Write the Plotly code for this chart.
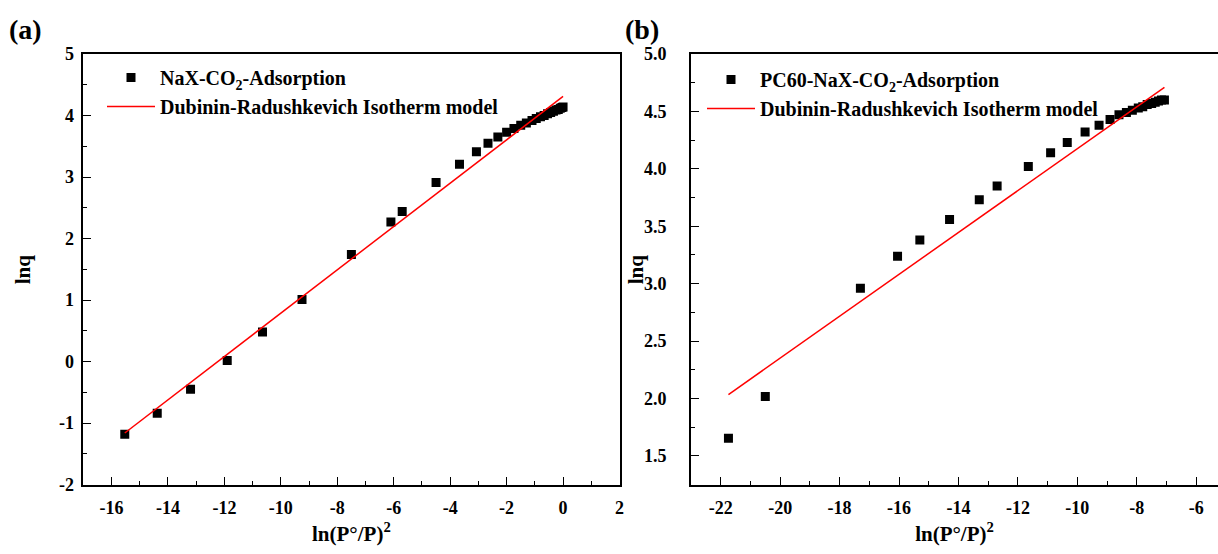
import plotly.graph_objects as go

# ---------------- data: panel (a) NaX ----------------
a_x = [-15.53, -14.38, -13.2, -11.9, -10.65, -9.25, -7.5, -6.1, -5.7, -4.5,
       -3.67, -3.07, -2.66, -2.31, -2.0, -1.74,
       -1.5, -1.3, -1.1, -0.95, -0.8, -0.67, -0.55, -0.44, -0.34, -0.25,
       -0.17, -0.1, -0.04, 0.0]
a_y = [-1.18, -0.84, -0.45, 0.02, 0.48, 1.01, 1.74, 2.27, 2.44, 2.91,
       3.21, 3.41, 3.55, 3.65, 3.73, 3.79,
       3.84, 3.88, 3.92, 3.95, 3.98, 4.00, 4.03, 4.05, 4.07, 4.09,
       4.10, 4.12, 4.13, 4.14]
a_fit_x = [-15.53, 0.0]
a_fit_y = [-1.16, 4.31]
a_xticks = [-16, -14, -12, -10, -8, -6, -4, -2, 0, 2]
a_yticks = [-2, -1, 0, 1, 2, 3, 4, 5]

# ---------------- data: panel (b) PC60-NaX ----------------
b_x = [-21.74, -20.5, -17.3, -16.05, -15.3, -14.3, -13.3, -12.7, -11.65, -10.9,
       -10.34, -9.74, -9.27, -8.9,
       -8.6, -8.35, -8.15, -7.95, -7.8, -7.65, -7.5, -7.38, -7.27, -7.17, -7.07]
b_y = [1.655, 2.017, 2.96, 3.24, 3.38, 3.56, 3.73, 3.85, 4.02, 4.14,
       4.23, 4.32, 4.38, 4.43,
       4.47, 4.49, 4.51, 4.53, 4.54, 4.56, 4.57, 4.58, 4.59, 4.60, 4.60]
b_fit_x = [-21.74, -7.07]
b_fit_y = [2.035, 4.71]
b_xticks = [-22, -20, -18, -16, -14, -12, -10, -8, -6]
b_yticks = [1.5, 2.0, 2.5, 3.0, 3.5, 4.0, 4.5, 5.0]

FONT = "Liberation Serif, Times New Roman, serif"
W, H = 1218, 554


def lab(v, fmt="{:g}"):
    return "<b>" + fmt.format(v) + "</b>"


fig = go.Figure()

fig.add_trace(go.Scatter(x=a_x, y=a_y, mode="markers",
                         marker=dict(symbol="square", size=9, color="black"),
                         name="<b>NaX-CO<sub>2</sub>-Adsorption</b>",
                         xaxis="x", yaxis="y", legend="legend", legendgroup="a1"))
fig.add_trace(go.Scatter(x=a_fit_x, y=a_fit_y, mode="lines",
                         line=dict(color="#ff0000", width=1.5),
                         name="<b>Dubinin-Radushkevich Isotherm model</b>",
                         xaxis="x", yaxis="y", legend="legend", legendgroup="a2"))
fig.add_trace(go.Scatter(x=b_x, y=b_y, mode="markers",
                         marker=dict(symbol="square", size=9, color="black"),
                         name="<b>PC60-NaX-CO<sub>2</sub>-Adsorption</b>",
                         xaxis="x2", yaxis="y2", legend="legend2", legendgroup="b1"))
fig.add_trace(go.Scatter(x=b_fit_x, y=b_fit_y, mode="lines",
                         line=dict(color="#ff0000", width=1.5),
                         name="<b>Dubinin-Radushkevich Isotherm model</b>",
                         xaxis="x2", yaxis="y2", legend="legend2", legendgroup="b2"))

ax_common = dict(showgrid=False, zeroline=False, showline=True, linecolor="black",
                 linewidth=1.6, ticks="inside", ticklen=8, tickwidth=1.4,
                 tickcolor="black", automargin=False, tickmode="array",
                 tickfont=dict(family=FONT, size=18, color="black"))
minor_common = dict(ticks="inside", ticklen=4, tickwidth=1.2, tickcolor="black")
title_font = dict(family=FONT, size=21, color="black")

ytop = 1 - 54 / H
ybot = 1 - 484.7 / H
ymid = (ytop + ybot) / 2

fig.update_layout(
    width=W, height=H,
    margin=dict(l=0, r=0, t=0, b=0, autoexpand=False),
    paper_bgcolor="white", plot_bgcolor="white",
    font=dict(family=FONT, color="black"),
    xaxis=dict(**ax_common, domain=[83.3 / W, 619.5 / W], range=[-17, 2],
               tickvals=a_xticks, ticktext=[lab(v) for v in a_xticks],
               mirror=True, anchor="y",
               minor=dict(**minor_common, tickmode="linear", tick0=-17, dtick=2),
               title=dict(text="<b>ln(P°/P)<sup>2</sup></b>", font=title_font, standoff=9),
               ticklabelstandoff=6),
    yaxis=dict(**ax_common, domain=[ybot, ytop], range=[-2, 5],
               tickvals=a_yticks, ticktext=[lab(v) for v in a_yticks],
               mirror=True, anchor="x",
               minor=dict(**minor_common, tickmode="linear", tick0=-1.5, dtick=1),
               ticklabelstandoff=4),
    xaxis2=dict(**ax_common, domain=[691 / W, 1.0], range=[-23, -23 + (W - 691) / 29.72],
                tickvals=b_xticks, ticktext=[lab(v) for v in b_xticks],
                mirror=True, anchor="y2",
                minor=dict(**minor_common, tickmode="linear", tick0=-23, dtick=2),
                title=dict(text="<b>ln(P°/P)<sup>2</sup></b>", font=title_font, standoff=9),
                ticklabelstandoff=6),
    yaxis2=dict(**ax_common, domain=[ybot, ytop], range=[1.25, 5.0],
                tickvals=b_yticks, ticktext=[lab(v, "{:.1f}") for v in b_yticks],
                mirror=False, anchor="x2",
                minor=dict(**minor_common, tickmode="linear", tick0=1.25, dtick=0.5),
                ticklabelstandoff=19),
    legend=dict(x=102 / W, y=1 - 58 / H, xanchor="left", yanchor="top",
                bgcolor="rgba(0,0,0,0)", borderwidth=0, tracegroupgap=0,
                itemwidth=48,
                font=dict(family=FONT, size=20, color="black")),
    legend2=dict(x=702 / W, y=1 - 60 / H, xanchor="left", yanchor="top",
                 bgcolor="rgba(0,0,0,0)", borderwidth=0, tracegroupgap=0,
                 itemwidth=48,
                 font=dict(family=FONT, size=20, color="black")),
    showlegend=True,
    annotations=[
        dict(text="<b>(a)</b>", x=7 / W, y=1 - 30 / H, xref="paper", yref="paper",
             xanchor="left", yanchor="middle", showarrow=False,
             font=dict(family=FONT, size=28, color="black")),
        dict(text="<b>(b)</b>", x=623 / W, y=1 - 30 / H, xref="paper", yref="paper",
             xanchor="left", yanchor="middle", showarrow=False,
             font=dict(family=FONT, size=28, color="black")),
        dict(text="<b>lnq</b>", x=23 / W, y=ymid, xref="paper", yref="paper",
             xanchor="center", yanchor="middle", textangle=-90, showarrow=False,
             font=title_font),
        dict(text="<b>lnq</b>", x=636 / W, y=ymid, xref="paper", yref="paper",
             xanchor="center", yanchor="middle", textangle=-90, showarrow=False,
             font=title_font),
    ],
)

fig.write_html("out.html")
